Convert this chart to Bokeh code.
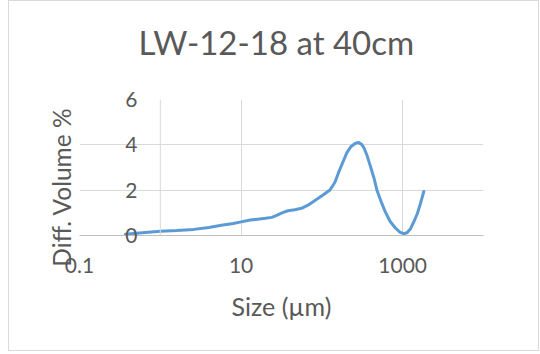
from bokeh.plotting import figure
from bokeh.models import Range1d, FixedTicker, Span, Title, LinearAxis
from bokeh.embed import file_html
from bokeh.resources import INLINE

# Data
size_um = [0.37, 0.6, 1.0, 1.6, 2.6, 4.0, 5.7, 8.0, 10, 13, 16, 20, 24, 28, 32, 38,
           46, 56, 68, 82, 100, 126, 145, 160, 180, 204, 230, 260, 285, 310, 330,
           360, 398, 440, 479, 540, 609, 700, 813, 920, 1025, 1130, 1250, 1380,
           1520, 1670, 1825]
diff_volume = [0.05, 0.12, 0.19, 0.22, 0.27, 0.35, 0.45, 0.53, 0.60, 0.68, 0.72,
               0.76, 0.80, 0.90, 1.00, 1.09, 1.14, 1.20, 1.35, 1.54, 1.75, 2.01,
               2.35, 2.76, 3.20, 3.66, 3.93, 4.07, 4.10, 4.02, 3.88, 3.55, 3.06,
               2.55, 2.01, 1.50, 1.04, 0.62, 0.33, 0.15, 0.08, 0.12, 0.30, 0.62,
               0.97, 1.45, 1.94]
x_ticks = [0.1, 10, 1000]
x_tick_labels = ["0.1", "10", "1000"]
y_ticks = [0, 2, 4, 6]
title_text = "LW-12-18 at 40cm"
x_title = "Size (µm)"
y_title = "Diff. Volume %"

FONT = "Lato"
GRAY = "#595959"
GRID = "#D9D9D9"

p = figure(width=531, height=351, output_backend="svg", toolbar_location=None,
           x_axis_type="log", x_range=Range1d(0.1, 10000), y_range=Range1d(0, 6),
           y_axis_location=None,
           min_border_left=70, min_border_right=57, min_border_top=98,
           min_border_bottom=117)
p.styles = {"border": "1px solid #D9D9D9", "margin-left": "8px", "margin-top": "0px",
            "box-sizing": "border-box"}
p.outline_line_color = None

# Title: a thin spacer panel next to the frame, then the title itself
p.add_layout(Title(text=" ", text_font_size="10px", standoff=25), "above")
p.add_layout(Title(text=title_text, text_font=FONT, text_font_size="33px",
                   text_font_style="normal", text_color=GRAY, align="left",
                   offset=59, standoff=0), "above")

# X axis
p.xaxis.ticker = FixedTicker(ticks=x_ticks)
p.xaxis.major_label_overrides = {t: l for t, l in zip(x_ticks, x_tick_labels)}
p.xaxis.major_tick_line_color = None
p.xaxis.minor_tick_line_color = None
p.xaxis.axis_line_color = "#BFBFBF"
p.xaxis.major_label_text_font = FONT
p.xaxis.major_label_text_font_size = "21px"
p.xaxis.major_label_text_color = GRAY
p.xaxis.major_label_standoff = 16
p.xaxis.axis_label = x_title
p.xaxis.axis_label_text_font = FONT
p.xaxis.axis_label_text_font_size = "25px"
p.xaxis.axis_label_text_font_style = "normal"
p.xaxis.axis_label_text_color = GRAY
p.xaxis.axis_label_standoff = 15

# Y axis title as a vertical title panel next to the frame
p.add_layout(Title(text=y_title, text_font=FONT, text_font_size="24.5px",
                   text_font_style="normal", text_color=GRAY, align="right",
                   offset=8, standoff=8), "left")

# Y tick labels, shifted to sit beside the vertical axis at x = 1
yt = LinearAxis(ticker=FixedTicker(ticks=y_ticks))
yt.axis_line_color = None
yt.major_tick_line_color = None
yt.minor_tick_line_color = None
yt.major_tick_out = 0
yt.minor_tick_out = 0
yt.major_label_text_font = FONT
yt.major_label_text_font_size = "21px"
yt.major_label_text_color = GRAY
yt.major_label_standoff = -97
p.add_layout(yt, "left")

p.xgrid.ticker = FixedTicker(ticks=x_ticks)
p.xgrid.grid_line_color = GRID
p.ygrid.ticker = FixedTicker(ticks=y_ticks)
p.ygrid.grid_line_color = GRID

p.add_layout(Span(location=1, dimension="height", line_color=GRID, line_width=1))

p.line(size_um, diff_volume, line_color="#5B9BD5", line_width=3,
       line_cap="round", line_join="round")

open("out.html", "w").write(file_html(p, INLINE))
